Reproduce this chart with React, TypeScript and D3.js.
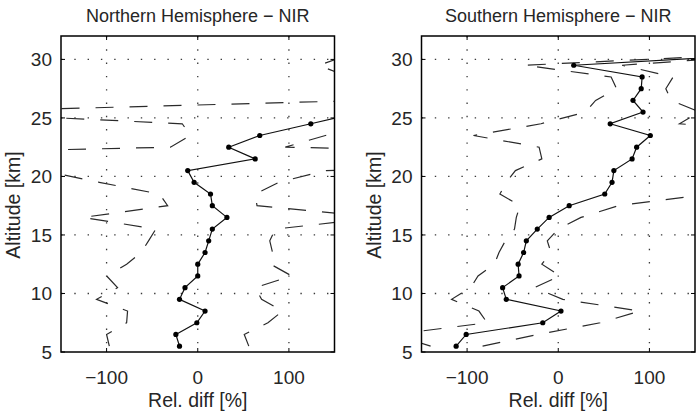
import React from "react";
import * as d3 from "d3";

// Altitude bins (km) shared by both hemispheres
const altitudeKm = [
  5.5, 6.5, 7.5, 8.5, 9.5, 10.5, 11.5, 12.5, 13.5, 14.5, 15.5, 16.5, 17.5,
  18.5, 19.5, 20.5, 21.5, 22.5, 23.5, 24.5, 25.5, 26.5, 27.5, 28.5, 29.5, 30.5,
];

// Northern Hemisphere: mean relative difference and its spread bounds (%)
const northMean = [
  -20, -24, -1, 8, -20, -14, 0, 0, 8, 12, 16, 32, 16, 14, -4, -11, 63, 34, 68,
  124, 180, 230, 220, 210, 200, 210,
];
const northLower = [
  -97, -100, -78, -77, -111, -88, -100, -78, -62, -54, -46, -126, -33, -42,
  -108, -170, -600, -30, -8, -17, -286, 186, 175, 165, 133, 170,
];
const northUpper = [
  56, 51, 77, 93, 70, 63, 103, 80, 82, 79, 85, 200, 65, 63, 89, 140, 720, 96,
  140, 265, 640, 275, 265, 255, 267, 250,
];

// Southern Hemisphere: mean relative difference and its spread bounds (%)
const southMean = [
  -112, -101, -17, 3, -57, -61, -43, -44, -38, -35, -23, -10, 12, 51, 59, 61,
  81, 86, 101, 57, 93, 82, 91, 92, 17, 240,
];
const southLower = [
  -140, -180, -78, -87, -117, -96, -88, -70, -65, -58, -48, -46, -42, -64, -57,
  -47, -18, -21, -93, -19, 30, 41, 64, 58, -37, 230,
];
const southUpper = [
  -83, -22, 46, 90, 5, -26, 2, -18, -8, -12, 0, 25, 66, 166, 175, 168, 179,
  194, 295, 133, 155, 124, 118, 126, 70, 250,
];

const xTicks = [-100, 0, 100];
const yTicks = [5, 10, 15, 20, 25, 30];
const xDomain: [number, number] = [-150, 150];
const yDomain: [number, number] = [5, 32];
const panelTitles = ["Northern Hemisphere \u2212 NIR", "Southern Hemisphere \u2212 NIR"];
const xAxisLabel = "Rel. diff [%]";
const yAxisLabel = "Altitude [km]";

const W = 699;
const H = 411;
const PLOT_TOP = 36;
const PLOT_BOTTOM = 352;
const FONT = "'Liberation Sans', Arial, Helvetica, sans-serif";
const TICK_FONT_SIZE = 19;
const LABEL_FONT_SIZE = 19.5;
const TITLE_FONT_SIZE = 18;
const TEXT_COLOR = "#262626";

type PanelProps = {
  id: string;
  x0: number;
  x1: number;
  title: string;
  mean: number[];
  lower: number[];
  upper: number[];
};

function Panel({ id, x0, x1, title, mean, lower, upper }: PanelProps) {
  const x = d3.scaleLinear().domain(xDomain).range([x0, x1]);
  const y = d3.scaleLinear().domain(yDomain).range([PLOT_BOTTOM, PLOT_TOP]);
  const line = d3
    .line<[number, number]>()
    .x((d) => x(d[0]))
    .y((d) => y(d[1]));
  const toPoints = (vals: number[]): [number, number][] =>
    vals.map((v, i) => [v, altitudeKm[i]]);

  const meanPts = toPoints(mean);
  const cx = (x0 + x1) / 2;
  const tickLen = 4;

  return (
    <g>
      <defs>
        <clipPath id={id}>
          <rect x={x0} y={PLOT_TOP} width={x1 - x0} height={PLOT_BOTTOM - PLOT_TOP} />
        </clipPath>
      </defs>

      {/* dotted grid */}
      <g stroke="#3a3a3a" strokeWidth={1.3} strokeDasharray="1.4,11.9" fill="none">
        {xTicks.map((t) => (
          <line key={"gx" + t} x1={x(t)} x2={x(t)} y1={PLOT_TOP} y2={PLOT_BOTTOM} />
        ))}
        {yTicks
          .filter((t) => t !== yDomain[0])
          .map((t) => (
            <line key={"gy" + t} x1={x0} x2={x1} y1={y(t)} y2={y(t)} />
          ))}
      </g>

      {/* spread bounds and mean profile */}
      <g clipPath={`url(#${id})`}>
        <path
          d={line(toPoints(lower)) || ""}
          fill="none"
          stroke="#2a2a2a"
          strokeWidth={1.2}
          strokeDasharray="18,16"
        />
        <path
          d={line(toPoints(upper)) || ""}
          fill="none"
          stroke="#2a2a2a"
          strokeWidth={1.2}
          strokeDasharray="18,16"
        />
        <path d={line(meanPts) || ""} fill="none" stroke="#111" strokeWidth={1.2} />
        {meanPts.map((p, i) => (
          <circle key={i} cx={x(p[0])} cy={y(p[1])} r={2.6} fill="#000" />
        ))}
      </g>

      {/* ticks */}
      <g stroke="#000" strokeWidth={1}>
        {xTicks.map((t) => (
          <g key={"tx" + t}>
            <line x1={x(t)} x2={x(t)} y1={PLOT_BOTTOM} y2={PLOT_BOTTOM - tickLen} />
            <line x1={x(t)} x2={x(t)} y1={PLOT_TOP} y2={PLOT_TOP + tickLen} />
          </g>
        ))}
        {yTicks.map((t) => (
          <g key={"ty" + t}>
            <line x1={x0} x2={x0 + tickLen} y1={y(t)} y2={y(t)} />
            <line x1={x1} x2={x1 - tickLen} y1={y(t)} y2={y(t)} />
          </g>
        ))}
      </g>

      {/* frame */}
      <rect
        x={x0}
        y={PLOT_TOP}
        width={x1 - x0}
        height={PLOT_BOTTOM - PLOT_TOP}
        fill="none"
        stroke="#000"
        strokeWidth={1.5}
      />

      {/* labels */}
      <g fontFamily={FONT} fill={TEXT_COLOR}>
        {xTicks.map((t) => (
          <text key={"lx" + t} x={x(t)} y={384} textAnchor="middle" fontSize={TICK_FONT_SIZE}>
            {t < 0 ? "\u2212" + Math.abs(t) : String(t)}
          </text>
        ))}
        {yTicks.map((t) => (
          <text key={"ly" + t} x={x0 - 9} y={y(t) + 7} textAnchor="end" fontSize={TICK_FONT_SIZE}>
            {t}
          </text>
        ))}
        <text x={cx} y={22} textAnchor="middle" fontSize={TITLE_FONT_SIZE}>
          {title}
        </text>
        <text x={cx} y={407} textAnchor="middle" fontSize={LABEL_FONT_SIZE}>
          {xAxisLabel}
        </text>
        <text
          transform={`translate(${x0 - 41},205) rotate(-90)`}
          textAnchor="middle"
          fontSize={LABEL_FONT_SIZE}
        >
          {yAxisLabel}
        </text>
      </g>
    </g>
  );
}

export default function App() {
  return (
    <svg
      width={W}
      height={H}
      viewBox={`0 0 ${W} ${H}`}
      style={{ position: "absolute", left: 0, top: 0, background: "#fff" }}
    >
      <rect x={0} y={0} width={W} height={H} fill="#fff" />
      <Panel
        id="clip-north"
        x0={61}
        x1={334.5}
        title={panelTitles[0]}
        mean={northMean}
        lower={northLower}
        upper={northUpper}
      />
      <Panel
        id="clip-south"
        x0={421.5}
        x1={695}
        title={panelTitles[1]}
        mean={southMean}
        lower={southLower}
        upper={southUpper}
      />
    </svg>
  );
}
